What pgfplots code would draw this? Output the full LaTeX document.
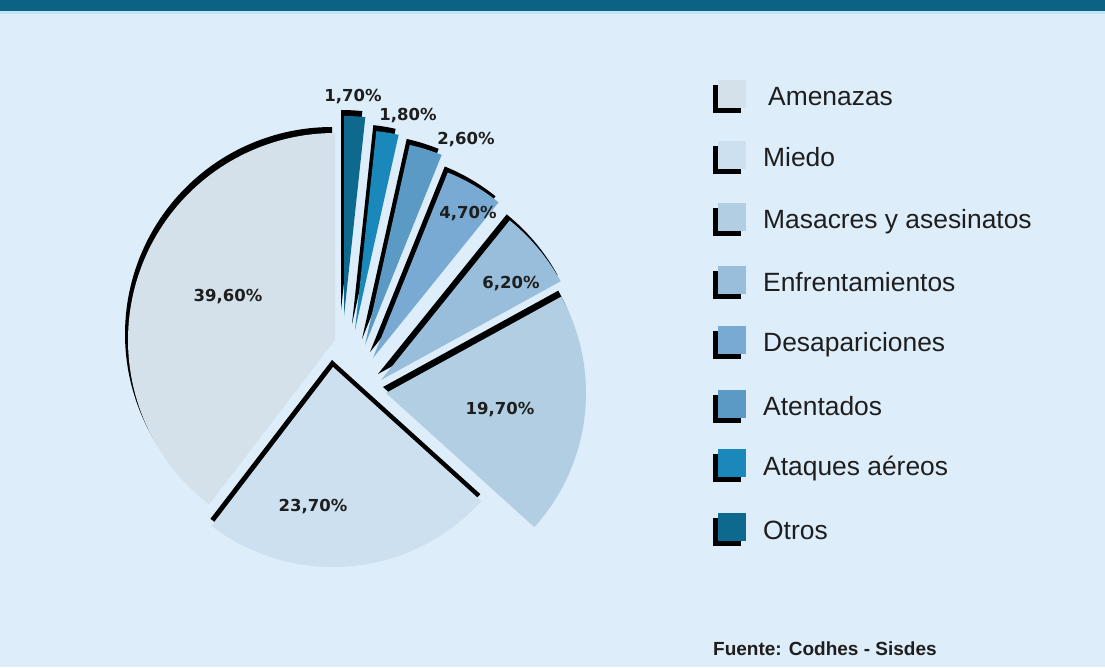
\documentclass[border=0pt]{standalone}
\usepackage{pgfplots}
\pgfplotsset{compat=1.18}
\usepackage{fontspec}
\setmainfont{Liberation Sans}
\newfontfamily\labfont{DejaVu Sans}

\definecolor{bg}{HTML}{DDEDF9}
\definecolor{cTitle}{HTML}{0C6284}
\definecolor{cLine}{HTML}{BDE8F3}
\definecolor{cAmen}{HTML}{D4E1EA}
\definecolor{cMiedo}{HTML}{CCE0EF}
\definecolor{cMasac}{HTML}{B2CEE3}
\definecolor{cEnfr}{HTML}{98BEDB}
\definecolor{cDesap}{HTML}{78AAD4}
\definecolor{cAtent}{HTML}{5C9AC6}
\definecolor{cAtaq}{HTML}{1A88BA}
\definecolor{cOtros}{HTML}{0D6A8E}
\definecolor{txt}{HTML}{1E1E1E}

% shares (%) of each category, counter-clockwise from the top
\def\vAmen{39.6}
\def\vMiedo{23.7}
\def\vMasac{19.7}
\def\vEnfr{6.2}
\def\vDesap{4.7}
\def\vAtent{2.6}
\def\vAtaq{1.8}
\def\vOtros{1.7}

\pgfmathsetmacro\aA{90}
\pgfmathsetmacro\aB{\aA+3.6*\vAmen}
\pgfmathsetmacro\aC{\aB+3.6*\vMiedo}
\pgfmathsetmacro\aD{\aC+3.6*\vMasac}
\pgfmathsetmacro\aE{\aD+3.6*\vEnfr}
\pgfmathsetmacro\aF{\aE+3.6*\vDesap}
\pgfmathsetmacro\aG{\aF+3.6*\vAtent}
\pgfmathsetmacro\aH{\aG+3.6*\vAtaq}
\pgfmathsetmacro\aI{\aH+3.6*\vOtros}

% #1 shadow dx, #2 apex x, #3 apex y (pixel, downwards), #4 radius, #5 start angle, #6 end angle, #7 shadow dy
\newcommand\shadowslice[7]{%
  \pgfmathsetmacro\sx{#2+#1}\pgfmathsetmacro\sy{#3+#7}%
  \pgfmathsetmacro\sa{#5}\pgfmathsetmacro\sb{#6}%
  \edef\tmp{\noexpand\addplot[draw=none,fill=black,domain=\sa:\sb,samples=90]
    ({\sx+#4*cos(x)},{\sy-#4*sin(x)}) -- (axis cs:\sx,\sy) -- cycle;}%
  \tmp}
\newcommand\slice[6]{%
  \pgfmathsetmacro\sa{#5}\pgfmathsetmacro\sb{#6}%
  \edef\tmp{\noexpand\addplot[draw=none,fill=#1,domain=\sa:\sb,samples=90]
    ({#2+#4*cos(x)},{#3-#4*sin(x)}) -- (axis cs:#2,#3) -- cycle;}%
  \tmp}

\newcommand\legitem[4]{%
  \pgfmathsetmacro\cc{667-(#2-3)}%
  \fill[black] (713pt,\cc pt-19pt) rectangle (741pt,\cc pt+9pt);
  \fill[#1] (718pt,\cc pt-14pt) rectangle (746pt,\cc pt+14pt);
  \node[anchor=base west,inner sep=0pt,text=txt,font=\fontsize{26.4}{30}\selectfont]
    at (#3pt,{(667-#2-9)*1pt}) {#4};
}
\newcommand\lab[3]{%
  \node[anchor=base,inner sep=0pt,text=txt,font=\labfont\bfseries\fontsize{16.5}{18}\selectfont]
    at (#1pt,{(667-#2-6)*1pt}) {#3};
}

\begin{document}
\begin{tikzpicture}
\fill[bg] (0,0) rectangle (1105pt,667pt);
\fill[cLine] (0,667pt-14pt) rectangle (1105pt,667pt-11pt);
\fill[cTitle] (0,667pt-11pt) rectangle (1105pt,667pt);
\begin{axis}[at={(0,0)},anchor=south west,width=1105pt,height=667pt,
  scale only axis,xmin=0,xmax=1105,ymin=0,ymax=667,y dir=reverse,
  hide axis,clip=false]
\shadowslice{-3}{335}{340}{207}{\aA}{\aB}{-6}
\shadowslice{-1}{333}{367}{200}{\aB}{\aC}{-7}
\shadowslice{-3}{386}{393}{200}{\aC}{\aD}{-6}
\shadowslice{-3}{381}{380}{205}{\aD}{\aE}{-6}
\shadowslice{-3}{373}{358}{200}{\aE}{\aF}{-6}
\shadowslice{-3}{365}{345}{205}{\aF}{\aG}{-6}
\shadowslice{-3}{355}{330}{200}{\aG}{\aH}{-6}
\shadowslice{-3}{344}{316}{200}{\aH}{\aI}{-6}
\slice{cAmen}{335}{340}{207}{\aA}{\aB}
\slice{cMiedo}{333}{367}{200}{\aB}{\aC}
\slice{cMasac}{386}{393}{200}{\aC}{\aD}
\slice{cEnfr}{381}{380}{205}{\aD}{\aE}
\slice{cDesap}{373}{358}{200}{\aE}{\aF}
\slice{cAtent}{365}{345}{205}{\aF}{\aG}
\slice{cAtaq}{355}{330}{200}{\aG}{\aH}
\slice{cOtros}{344}{316}{200}{\aH}{\aI}
\end{axis}
\lab{353}{96}{1,70\%}
\lab{408}{115}{1,80\%}
\lab{466}{139}{2,60\%}
\lab{468}{213}{4,70\%}
\lab{511}{283}{6,20\%}
\lab{228}{296}{39,60\%}
\lab{500}{409}{19,70\%}
\lab{313}{505}{23,70\%}
\legitem{cAmen}{97}{768}{Amenazas}
\legitem{cMiedo}{158}{763}{Miedo}
\legitem{cMasac}{220}{763}{Masacres y asesinatos}
\legitem{cEnfr}{283}{763}{Enfrentamientos}
\legitem{cDesap}{343}{763}{Desapariciones}
\legitem{cAtent}{407}{763}{Atentados}
\legitem{cAtaq}{466}{763}{Ataques aéreos}
\legitem{cOtros}{530}{763}{Otros}
\node[anchor=base west,inner sep=0pt,text=txt,font=\bfseries\fontsize{19}{22}\selectfont]
  at (713pt,{(667-655)*1pt}) {Fuente: Codhes - Sisdes};
\end{tikzpicture}
\end{document}
